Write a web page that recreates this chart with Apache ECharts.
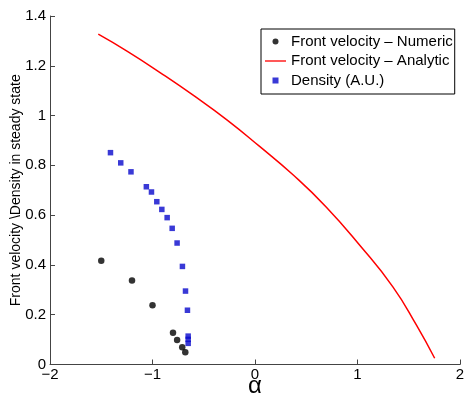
<!DOCTYPE html>
<html>
<head>
<meta charset="utf-8">
<script src="https://cdn.jsdelivr.net/npm/echarts@6/dist/echarts.min.js"></script>
<style>html,body{margin:0;padding:0;background:#fff;}#c{width:465px;height:403px;}</style>
</head>
<body>
<div id="c"></div>
<script>
// Data
const numericX = [-1.5, -1.2, -1.0, -0.8, -0.76, -0.71, -0.68];
const numericY = [0.417, 0.337, 0.238, 0.128, 0.098, 0.069, 0.049];
const densityX = [-1.41, -1.31, -1.21, -1.06, -1.01, -0.958, -0.909, -0.857, -0.808, -0.76, -0.708, -0.678, -0.659, -0.652, -0.652, -0.652];
const densityY = [0.851, 0.810, 0.774, 0.714, 0.693, 0.654, 0.623, 0.590, 0.547, 0.488, 0.394, 0.295, 0.218, 0.114, 0.101, 0.085];
const analyticX = [-1.529, -1.245, -0.919, -0.593, -0.268, 0.042, 0.368, 0.694, 1.020, 1.345, 1.574, 1.753];
const analyticY = [1.327, 1.258, 1.171, 1.079, 0.981, 0.877, 0.763, 0.633, 0.480, 0.312, 0.159, 0.025];
const xTicks = [-2, -1, 0, 1, 2];
const yTicks = [0, 0.2, 0.4, 0.6, 0.8, 1, 1.2, 1.4];
const seriesNames = ['Front velocity \u2013 Numeric', 'Front velocity \u2013 Analytic', 'Density (A.U.)'];

const zip = (xs, ys) => xs.map((x, i) => [x, ys[i]]);
const font = 'Liberation Sans, Arial, sans-serif';
const fmt = v => String(v).replace('-', '\u2212');
const axisColor = '#444';

const chart = echarts.init(document.getElementById('c'), null, {renderer: 'canvas'});
chart.setOption({
  animation: false,
  backgroundColor: '#fff',
  grid: {left: 50, right: 5, top: 16, bottom: 38.5, containLabel: false, outerBoundsMode: 'none'},
  xAxis: {
    type: 'value', min: xTicks[0], max: xTicks[xTicks.length - 1], interval: 1,
    name: '\u03b1', nameLocation: 'middle', nameGap: 10, nameMoveOverlap: false,
    nameTextStyle: {fontFamily: font, fontSize: 24, color: '#000'},
    axisLine: {show: true, onZero: false, lineStyle: {color: axisColor, width: 1}},
    axisTick: {show: true, inside: true, length: 5, lineStyle: {color: axisColor}},
    axisLabel: {fontFamily: font, fontSize: 15, color: '#000', margin: 3, formatter: fmt},
    splitLine: {show: false}
  },
  yAxis: {
    type: 'value', min: yTicks[0], max: yTicks[yTicks.length - 1], interval: 0.2,
    name: 'Front velocity \\Density in steady state', nameLocation: 'middle', nameGap: 27, nameMoveOverlap: false,
    nameTextStyle: {fontFamily: font, fontSize: 14, color: '#000'},
    axisLine: {show: true, onZero: false, lineStyle: {color: axisColor, width: 1}},
    axisTick: {show: true, inside: true, length: 5, lineStyle: {color: axisColor}},
    axisLabel: {fontFamily: font, fontSize: 15, color: '#000', margin: 4, formatter: fmt},
    splitLine: {show: false}
  },
  legend: {
    orient: 'vertical', left: 261, top: 29,
    padding: [5, 2, 6, 4], itemGap: 4.5, itemWidth: 21, itemHeight: 6,
    borderColor: '#000', borderWidth: 1, backgroundColor: '#fff',
    textStyle: {fontFamily: font, fontSize: 15, color: '#000'},
    data: [
      {name: seriesNames[0], icon: 'circle'},
      {name: seriesNames[1], icon: 'path://M0,0H24V1.5H0Z'},
      {name: seriesNames[2], icon: 'path://M0,0H1V1H0Z'}
    ]
  },
  series: [
    {
      name: seriesNames[0], type: 'scatter', data: zip(numericX, numericY),
      symbol: 'circle', symbolSize: 6.5, itemStyle: {color: '#000'}, z: 3
    },
    {
      name: seriesNames[1], type: 'line', data: zip(analyticX, analyticY),
      smooth: true, showSymbol: false, symbol: 'none',
      lineStyle: {color: '#ff0000', width: 1.5}, itemStyle: {color: '#ff0000'}
    },
    {
      name: seriesNames[2], type: 'scatter', data: zip(densityX, densityY),
      symbol: 'rect', symbolSize: 5.5, itemStyle: {color: '#0808cc'}, z: 2
    }
  ]
});
</script>
</body>
</html>
